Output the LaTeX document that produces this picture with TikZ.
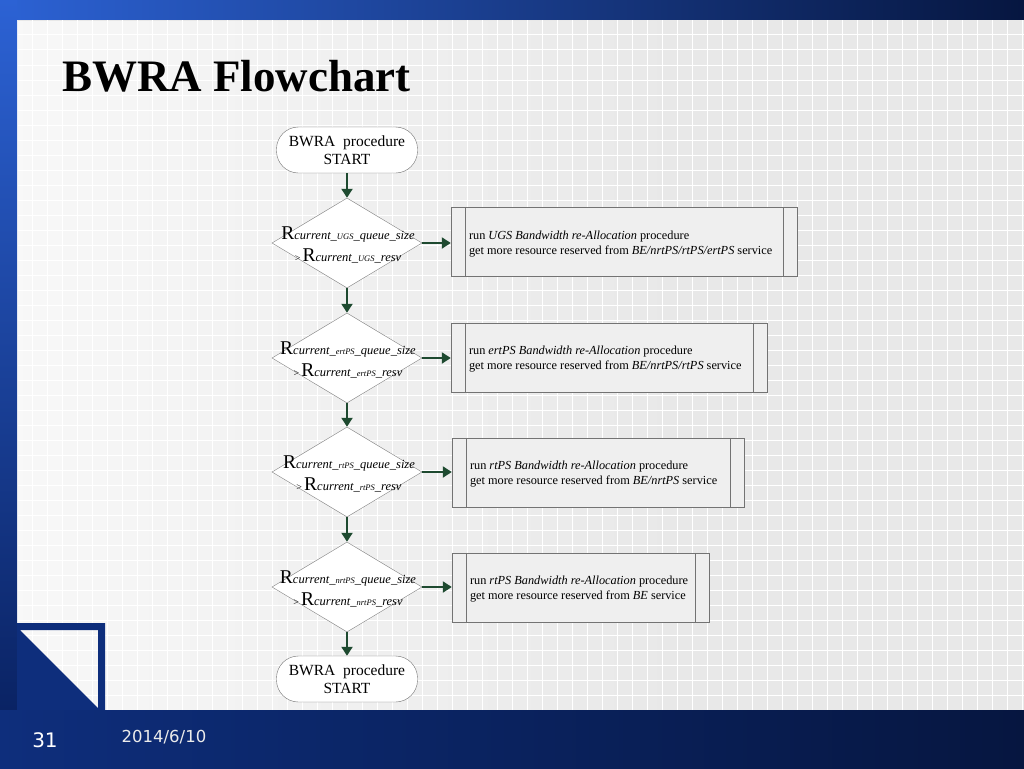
\documentclass[tikz,border=0pt]{standalone}
\usepackage{fontspec}
\setmainfont{Liberation Serif}
\newfontfamily\footfont{DejaVu Sans}
\usetikzlibrary{shapes.geometric,arrows.meta,fadings}
\definecolor{barlight}{HTML}{2C62D4}
\definecolor{bardark}{HTML}{061640}
\definecolor{navy}{HTML}{0A2364}
\definecolor{navyL}{HTML}{0E2E7C}
\definecolor{gridbg}{HTML}{E8E8E8}
\definecolor{arrowc}{HTML}{1E4A30}
\definecolor{procfill}{HTML}{EFEFEF}
\newcommand{\condA}[1]{{\fontsize{19.5}{22}\selectfont R}{\itshape current\_{\fontsize{8.5}{8}\selectfont #1}\_queue\_size}}
\newcommand{\condB}[1]{{\fontsize{10}{10}\selectfont >}\,{\fontsize{19.5}{22}\selectfont R}{\itshape current\_{\fontsize{8.5}{8}\selectfont #1}\_resv}}
\begin{document}
\begin{tikzpicture}[x=1pt,y=-1pt,
  term/.style={draw=black!55, fill=white, rounded corners=22pt, minimum width=141pt, minimum height=46pt, inner sep=0pt, align=center, font=\fontsize{15.5}{18}\selectfont},
  dia/.style={diamond, draw=black!50, fill=white, minimum width=150pt, minimum height=90pt, inner sep=0pt},
  cond/.style={align=center, inner sep=0pt, font=\fontsize{12.5}{22}\selectfont},
  proc/.style={draw=black!55, fill=procfill, minimum height=69pt, inner sep=0pt},
  procline/.style={draw=black!55},
  ptext/.style={anchor=west, align=left, inner sep=0pt, font=\fontsize{12.3}{15}\selectfont},
  flow/.style={draw=arrowc, line width=2pt, -{Triangle[length=9pt,width=11pt]}}
]
\useasboundingbox (0,0) rectangle (1024,768);
% background
\fill[gridbg] (0,0) rectangle (1024,768);
\foreach \x in {17,32,...,1024} \draw[white, line width=1pt] (\x,20) -- (\x,710);
\foreach \y in {20,35,...,710} \draw[white, line width=1pt] (17,\y) -- (1024,\y);
\fill[white, path fading=east, fill opacity=0.7] (17,20) rectangle (700,710);
% frame bars
\shade[left color=barlight, right color=bardark] (0,0) rectangle (1024,20);
\shade[top color=barlight, bottom color=navy] (0,0) rectangle (17,710);
\shade[left color=navyL, right color=bardark] (0,710) rectangle (1024,768);
% corner decoration
\fill[navyL, even odd rule] (17,623) rectangle (105,710) (20,630) -- (98,630) -- (98,708) -- cycle;
% title
\node[anchor=base west, inner sep=0pt, font=\fontsize{45}{50}\selectfont\bfseries] (title) at (62,91) {BWRA Flowchart};
% footer
\node[inner sep=0pt, text=white, font=\footfont\fontsize{20}{22}\selectfont] (pnum) at (45,740) {31};
\node[inner sep=0pt, text=white!92!black, font=\footfont\fontsize{16.5}{18}\selectfont] (date) at (164,737) {2014/6/10};
% flowchart
\node[term] (start) at (347,150) {BWRA~~procedure\\START};
\node[dia] (d1) at (347,243) {};
\node[dia] (d2) at (347,358) {};
\node[dia] (d3) at (347,472) {};
\node[dia] (d4) at (347,587) {};
\node[term] (stop) at (347,679) {BWRA~~procedure\\START};
\node[cond] (c1) at (348,245) {\condA{UGS}\\\condB{UGS}};
\node[cond] (c2) at (348,360) {\condA{ertPS}\\\condB{ertPS}};
\node[cond] (c3) at (349,474) {\condA{rtPS}\\\condB{rtPS}};
\node[cond] (c4) at (348,589) {\condA{nrtPS}\\\condB{nrtPS}};
\node[proc, minimum width=346pt] (b1) at (624,242) {};
\node[proc, minimum width=316pt] (b2) at (609,357.5) {};
\node[proc, minimum width=292pt] (b3) at (598,472.5) {};
\node[proc, minimum width=257pt] (b4) at (580.5,587.5) {};
\foreach \b in {b1,b2,b3,b4}{
  \draw[procline] ([xshift=14pt]\b.north west) -- ([xshift=14pt]\b.south west);
  \draw[procline] ([xshift=-14pt]\b.north east) -- ([xshift=-14pt]\b.south east);
}
\node[ptext] (t1) at ([xshift=18pt,yshift=-2pt]b1.west) {run \textit{UGS Bandwidth re-Allocation} procedure\\get more resource reserved from \textit{BE/nrtPS/rtPS/ertPS} service};
\node[ptext] (t2) at ([xshift=18pt,yshift=-2pt]b2.west) {run \textit{ertPS Bandwidth re-Allocation} procedure\\get more resource reserved from \textit{BE/nrtPS/rtPS} service};
\node[ptext] (t3) at ([xshift=18pt,yshift=-2pt]b3.west) {run \textit{rtPS Bandwidth re-Allocation} procedure\\get more resource reserved from \textit{BE/nrtPS} service};
\node[ptext] (t4) at ([xshift=18pt,yshift=-2pt]b4.west) {run \textit{rtPS Bandwidth re-Allocation} procedure\\get more resource reserved from \textit{BE} service};
% connectors
\draw[flow] (start.south) -- (d1.north);
\draw[flow] (d1.south) -- (d2.north);
\draw[flow] (d2.south) -- (d3.north);
\draw[flow] (d3.south) -- (d4.north);
\draw[flow] (d4.south) -- (stop.north);
\draw[flow] (d1.east) -- (d1.east -| b1.west);
\draw[flow] (d2.east) -- (d2.east -| b2.west);
\draw[flow] (d3.east) -- (d3.east -| b3.west);
\draw[flow] (d4.east) -- (d4.east -| b4.west);
\end{tikzpicture}
\end{document}
